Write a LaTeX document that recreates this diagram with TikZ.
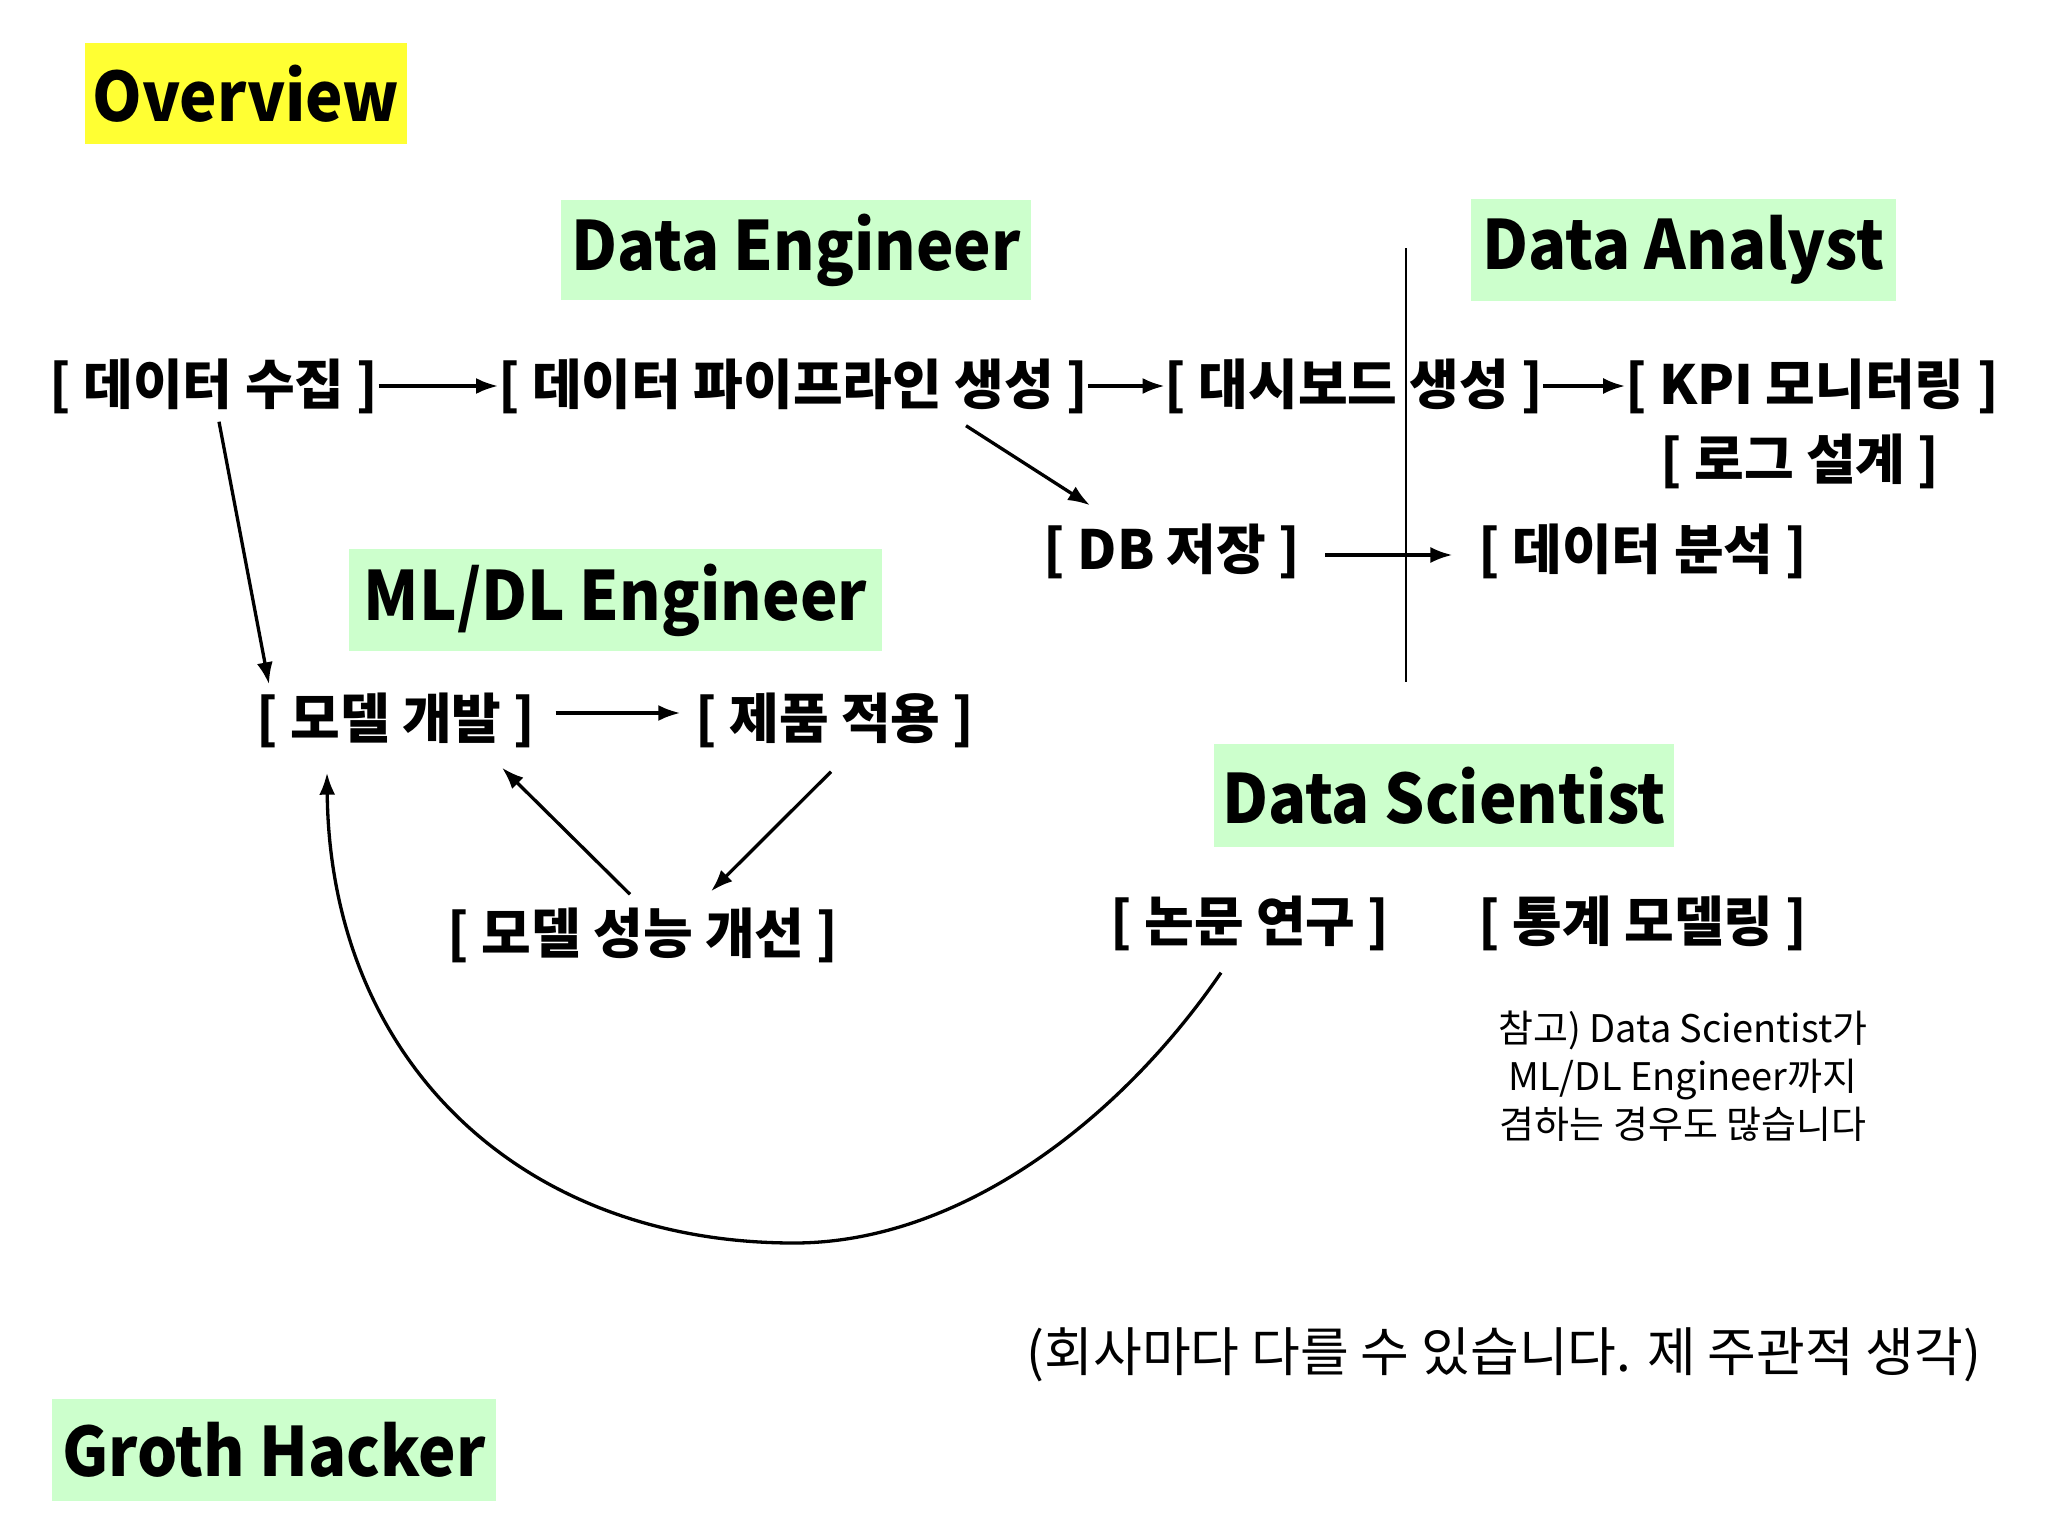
\documentclass[tikz,border=0pt]{standalone}
\usepackage{fontspec}
\setmainfont{Noto Sans CJK KR}
\newfontfamily\headfont{Noto Sans CJK KR}[FakeStretch=0.93]
\usetikzlibrary{arrows.meta,calc}
\definecolor{hlyellow}{RGB}{255,255,51}
\definecolor{hlgreen}{RGB}{204,255,204}
\tikzset{
  head/.style={fill=#1, inner sep=0pt, font=\headfont\bfseries\fontsize{68}{80}\selectfont},
  item/.style={inner sep=0pt, font=\bfseries\fontsize{54}{62}\selectfont},
  conn/.style={line width=3.3pt, -{Latex[length=22pt,width=16pt]}},
}
\begin{document}
\begin{tikzpicture}[x=1pt,y=-1pt]
\useasboundingbox (0,0) rectangle (2048,1536);
% headings
\node[head=hlyellow, minimum width=322pt, minimum height=101pt] (ov) at (246,93.5) {Overview};
\node[head=hlgreen, minimum width=470pt, minimum height=100pt] (de) at (796,250) {Data Engineer};
\node[head=hlgreen, minimum width=425pt, minimum height=102pt] (da) at (1683.5,250) {Data Analyst};
\node[head=hlgreen, minimum width=533pt, minimum height=102pt] (ml) at (615.5,600) {ML/DL Engineer};
\node[head=hlgreen, minimum width=460pt, minimum height=103pt] (ds) at (1444,795.5) {Data Scientist};
\node[head=hlgreen, minimum width=444pt, minimum height=102pt] (gh) at (274,1450) {Groth Hacker};
% items
\node[item] (sujip) at (214,386) {[ 데이터 수집 ]};
\node[item] (pipe) at (793,386) {[ 데이터 파이프라인 생성 ]};
\node[item] (dash) at (1354,386) {[ 대시보드 생성 ]};
\node[item] (kpi) at (1812,386) {[ KPI 모니터링 ]};
\node[item] (log) at (1800,461) {[ 로그 설계 ]};
\node[item] (db) at (1172,551) {[ DB 저장 ]};
\node[item] (anal) at (1643,551) {[ 데이터 분석 ]};
\node[item] (dev) at (396,720) {[ 모델 개발 ]};
\node[item] (apply) at (835,720) {[ 제품 적용 ]};
\node[item] (impr) at (643,935) {[ 모델 성능 개선 ]};
\node[item] (paper) at (1250,923) {[ 논문 연구 ]};
\node[item] (stat) at (1643,923) {[ 통계 모델링 ]};
% notes
\node[inner sep=0pt, align=center, font=\fontsize{38}{48}\selectfont] (note) at (1683,1076)
  {참고) Data Scientist가\\ML/DL Engineer까지\\겸하는 경우도 많습니다};
\node[inner sep=0pt, font=\fontsize{53}{60}\selectfont] (disc) at (1504,1355)
  {(회사마다 다를 수 있습니다. 제 주관적 생각)};
% divider
\draw[line width=1.5pt] (1406,248) -- (1406,682);
% connectors
\draw[conn] (sujip.east) -- (pipe.west);
\draw[conn] (pipe.east) -- (dash.west);
\draw[conn] (dash.east) -- (kpi.west);
\draw[conn] ($(db.east)+(25,4)$) -- ($(anal.west)+(-26,4)$);
\draw[conn] ($(dev.east)+(20,-7)$) -- ($(apply.west)+(-15,-7)$);
\draw[conn] ($(pipe.south)+(173,12)$) -- ($(db.north)+(-82,-18)$);
\draw[conn] ($(sujip.south)+(5,8)$) -- ($(dev.north)+(-127,-8)$);
\draw[conn] ($(apply.south)+(-4,24)$) -- ($(impr.north)+(68,-16)$);
\draw[conn] ($(impr.north)+(-13,-13)$) -- ($(dev.south)+(106,20)$);
\draw[conn] ($(paper.south)+(-29,22)$) .. controls (1120,1120) and (960,1243) .. (794,1243)
  .. controls (520,1243) and (330,1060) .. ($(dev.south)+(-69,25)$);
\end{tikzpicture}
\end{document}
